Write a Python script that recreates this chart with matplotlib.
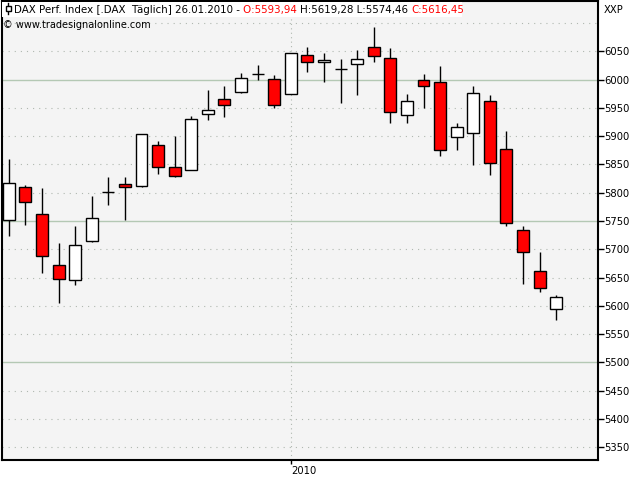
import matplotlib
matplotlib.use('Agg')
import matplotlib.pyplot as plt
from matplotlib.patches import Rectangle
from matplotlib.lines import Line2D

# Daily DAX candles, Dec 2009 .. 26.01.2010
opens  = [5752, 5811, 5763, 5673, 5646, 5714, 5802, 5815, 5812, 5884, 5846, 5841,
          5939, 5965, 5978, 6010, 6001, 5974, 6043, 6031, 6018, 6027, 6057, 6038,
          5937, 5999, 5995, 5898, 5905, 5963, 5878, 5735, 5662, 5593.94]
highs  = [5859, 5813, 5809, 5712, 5742, 5794, 5828, 5828, 5904, 5891, 5901, 5936,
          5982, 5989, 6012, 6026, 6008, 6047, 6058, 6047, 6037, 6053, 6093, 6056,
          5975, 6010, 6024, 5923, 5989, 5973, 5909, 5741, 5695, 5619.28]
lows   = [5723, 5743, 5658, 5605, 5637, 5713, 5778, 5751, 5810, 5833, 5828, 5841,
          5929, 5934, 5977, 6000, 5949, 5974, 6014, 5996, 5959, 5972, 6031, 5924,
          5924, 5950, 5865, 5876, 5849, 5832, 5741, 5638, 5624, 5574.46]
closes = [5817, 5784, 5689, 5648, 5708, 5756, 5802, 5811, 5903, 5845, 5830, 5930,
          5946, 5956, 6002, 6010, 5956, 6047, 6031, 6034, 6018, 6036, 6041, 5942,
          5962, 5988, 5875, 5917, 5976, 5852, 5747, 5696, 5632, 5616.45]
year_start = 17          # first session of 2010
year_label = '2010'
ytick_vals = list(range(5350, 6051, 50))
grid_vals  = list(range(5350, 6101, 50))
solid_vals = [5500, 5750, 6000]

title_parts = [('DAX Perf. Index [.DAX  Täglich] 26.01.2010 - ', 'black'),
               ('O:5593,94 ', 'red'),
               ('H:5619,28 L:5574,46 ', 'black'),
               ('C:5616,45', 'red')]

fs = 7.2
plt.rcParams['font.family'] = 'DejaVu Sans'

fig = plt.figure(figsize=(6.4, 4.8), dpi=100)
fig.patch.set_facecolor('white')
ax = fig.add_axes([1.5/640, 20/480, (597.7-1.5)/640, (479-20)/480])
ax.set_facecolor('#f4f4f4')

n = len(opens)
ax.set_xlim(-0.44, 35.5)
ax.set_ylim(5327.5, 6139)

# grid
for v in grid_vals:
    if v in solid_vals:
        ax.axhline(v, color='#b4c8b4', lw=1.0, zorder=1)
    else:
        ax.axhline(v, color='#b0b8b0', lw=0.8, ls=(0, (1, 4.5)), zorder=1)
ax.axvline(year_start, color='#b0b8b0', lw=0.8, ls=(0, (1, 3)), zorder=1)

# candles
x = list(range(n))
ax.vlines(x, lows, highs, color='black', lw=1.0, zorder=2)
bottoms = [min(o, c) for o, c in zip(opens, closes)]
heights = [abs(c - o) for o, c in zip(opens, closes)]
cols = ['red' if c < o else 'white' for o, c in zip(opens, closes)]
ax.bar(x, heights, bottom=bottoms, width=0.72, color=cols,
       edgecolor='black', linewidth=1.0, zorder=3)

# axes
ax.yaxis.tick_right()
ax.set_yticks(ytick_vals)
ax.set_yticklabels([str(v) for v in ytick_vals])
ax.tick_params(axis='y', length=4, width=1, labelsize=fs, pad=1, direction='out')
ax.set_xticks([year_start])
ax.set_xticklabels([year_label], ha='left')
ax.tick_params(axis='x', length=3, width=1, labelsize=fs, pad=1)
for s in ax.spines.values():
    s.set_linewidth(1.5)
    s.set_color('black')

# header (white box + small candle icon + coloured OHLC text)
tf = fig.transFigure
ax.add_patch(Rectangle((2/640, (480-17)/480), 460/640, 15/480, transform=tf,
                       facecolor='white', edgecolor='none', zorder=5, clip_on=False))
ax.add_line(Line2D([8/640, 8/640], [(480-3)/480, (480-14)/480], transform=tf,
                   color='black', lw=1, zorder=6, clip_on=False))
ax.add_patch(Rectangle((5.5/640, (480-11)/480), 5/640, 5/480, transform=tf,
                       facecolor='white', edgecolor='black', lw=1, zorder=7,
                       clip_on=False))

prev = None
for txt, col in title_parts:
    if prev is None:
        prev = ax.annotate(txt, xy=(14, 480-10), xycoords='figure pixels',
                           va='center', ha='left', color=col, fontsize=7.4,
                           zorder=8, annotation_clip=False)
    else:
        prev = ax.annotate(txt, xy=(1, 0), xycoords=prev, va='bottom',
                           ha='left', color=col, fontsize=7.4, zorder=8,
                           annotation_clip=False)

ax.annotate('© www.tradesignalonline.com', xy=(3, 480-25), xycoords='figure pixels',
            fontsize=7.0, va='center', ha='left', zorder=8, annotation_clip=False)
fig.text(604/640, (480-10)/480, 'XXP', fontsize=fs, va='center', ha='left')

fig.savefig('out.png', dpi=100)
